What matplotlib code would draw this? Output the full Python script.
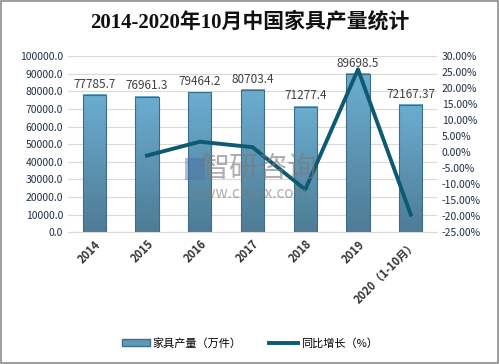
import numpy as np
import matplotlib.pyplot as plt
from matplotlib.patches import Rectangle
from matplotlib.colors import LinearSegmentedColormap

plt.rcParams['font.family'] = ['Noto Sans CJK SC', 'DejaVu Sans']

years = ["2014", "2015", "2016", "2017", "2018", "2019", "2020（1-10月）"]
output = [77785.7, 76961.3, 79464.2, 80703.4, 71277.4, 89698.5, 72167.37]
output_labels = ["77785.7", "76961.3", "79464.2", "80703.4", "71277.4", "89698.5", "72167.37"]
growth = [None, -1.06, 3.25, 1.56, -11.68, 25.84, -19.5]

fig = plt.figure(figsize=(4.99, 3.64), dpi=100)
fig.patches.append(Rectangle((0.002, 0.003), 0.995, 0.994, transform=fig.transFigure,
                             fill=False, edgecolor="#8c8c8c", linewidth=1.2))
ax = fig.add_axes([0.136, 0.362, 0.74, 0.484])
ax2 = ax.twinx()

x = np.arange(len(years))
w = 0.44
grad = np.linspace(0, 1, 100).reshape(-1, 1)
cmap = LinearSegmentedColormap.from_list("bar", ["#4e7c95", "#6badd0"])
for xi, v in zip(x, output):
    ax.imshow(grad, cmap=cmap, aspect="auto", origin="lower",
              extent=(xi - w / 2, xi + w / 2, 0, v), zorder=2)
    ax.add_patch(Rectangle((xi - w / 2, 0), w, v, fill=False,
                           edgecolor="#3f6d85", linewidth=0.8, zorder=3))

for xi, v, t in zip(x, output, output_labels):
    ax.text(xi, v + 2500, t, ha="center", va="bottom", fontsize=8.5, color="#404040", zorder=4)

ax.set_xlim(-0.5, len(years) - 0.5)
ax.set_ylim(0, 100000)
ax.set_yticks(np.arange(0, 100001, 10000))
ax.set_yticklabels(["%.1f" % t for t in np.arange(0, 100001, 10000)])
ax.grid(axis="y", color="#d9d9d9", linewidth=0.8, zorder=0)
ax.set_axisbelow(True)
ax.set_xticks(x)
ax.set_xticklabels(years, rotation=45, ha="right", rotation_mode="anchor",
                   fontsize=8, fontweight="bold", color="#333333")
ax.tick_params(axis="y", length=0, labelsize=7.5, labelcolor="#1f2f4a")
ax.tick_params(axis="x", length=0, pad=4)
for s in ["top", "right", "left"]:
    ax.spines[s].set_visible(False)
ax.spines["bottom"].set_color("#d9d9d9")

gx = [xi for xi, g in zip(x, growth) if g is not None]
gy = [g for g in growth if g is not None]
ax2.plot(gx, gy, color="#0d5a73", linewidth=2.8, zorder=5)
ax2.set_ylim(-25, 30)
ax2.set_yticks(np.arange(-25, 31, 5))
ax2.set_yticklabels(["%.2f%%" % t for t in np.arange(-25, 31, 5)])
ax2.tick_params(axis="y", length=0, labelsize=7.5, labelcolor="#1f2f4a")
for s in ["top", "right", "left", "bottom"]:
    ax2.spines[s].set_visible(False)

# watermark
fig.text(0.52, 0.535, "智研咨询", fontsize=21, color="#7a7a7a", alpha=0.6,
         ha="center", va="center", zorder=10)
fig.text(0.50, 0.468, "www.chyxx.com", fontsize=11, color="#7a7a7a", alpha=0.6,
         ha="center", va="center", zorder=10)
fig.patches.append(Rectangle((0.37, 0.505), 0.04, 0.06, transform=fig.transFigure,
                             facecolor="#4a6fa5", alpha=0.45, edgecolor="none", zorder=10))

fig.text(0.5, 0.94, "2014-2020年10月中国家具产量统计", fontsize=15,
         family=["Liberation Serif", "Noto Sans CJK SC"], fontweight="bold",
         ha="center", va="center", color="#111111")

h1 = Rectangle((0, 0), 1, 1, facecolor="#5f9ab8", edgecolor="#3f6d85")
h2, = ax2.plot([], [], color="#0d5a73", linewidth=2.8)
fig.legend([h1, h2], ["家具产量（万件）", "同比增长（%）"], loc="center",
           bbox_to_anchor=(0.5, 0.057), ncol=2, frameon=False, fontsize=8,
           handlelength=2.6, handleheight=0.6, columnspacing=2.5, handletextpad=0.2)

fig.savefig("out.png", dpi=100)
